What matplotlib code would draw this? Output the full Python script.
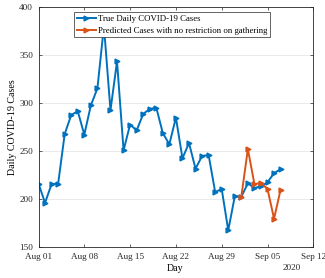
import numpy as np
import matplotlib
matplotlib.use("Agg")
import matplotlib.pyplot as plt
import matplotlib.dates as mdates

plt.rcParams["font.family"] = ["Liberation Serif", "DejaVu Serif"]

true_dates = np.arange(np.datetime64("2020-08-01"), np.datetime64("2020-09-08"))
true_cases = [216, 196, 215.6, 216, 267.6, 287.6, 291.4, 267, 297.6, 315.2,
              380, 292.4, 343.4, 250.7, 277.6, 271.4, 288.6, 293.8, 295.2, 268.6,
              257, 284.8, 242.4, 258.3, 231.6, 244.8, 245.8, 207.3, 210.4, 167.4,
              202.8, 202.4, 216.3, 211.5, 213.2, 217.4, 227, 231]

pred_dates = np.arange(np.datetime64("2020-09-01"), np.datetime64("2020-09-08"))
pred_cases = [202.6, 252, 215.6, 216.7, 210.4, 179.5, 209.7]

blue = "#0072BD"
orange = "#D95319"

fig = plt.figure(figsize=(3.25, 2.78), dpi=100)
ax = fig.add_axes([0.1185, 0.1115, 0.8455, 0.8633])

ax.plot(true_dates, true_cases, color=blue, lw=1.4, marker=">", ms=3.5,
        label="True Daily COVID-19 Cases")
ax.plot(pred_dates, pred_cases, color=orange, lw=1.4, marker=">", ms=3.5,
        label="Predicted Cases with no restriction on gathering")

ax.set_xlim(np.datetime64("2020-08-01"), np.datetime64("2020-09-12"))
ax.set_ylim(150, 400)
ax.set_yticks([150, 200, 250, 300, 350, 400])
ticks = np.arange(np.datetime64("2020-08-01"), np.datetime64("2020-09-13"), 7)
ax.set_xticks(ticks)
ax.xaxis.set_major_formatter(mdates.DateFormatter("%b %d"))

ax.yaxis.grid(True, color="#e6e6e6", lw=0.6)
ax.set_axisbelow(True)
ax.tick_params(direction="in", top=True, right=True, labelsize=6.6, length=2.5,
               width=0.5, colors="#262626", pad=4)
for s in ax.spines.values():
    s.set_linewidth(0.6)
    s.set_color("#262626")

ax.set_xlabel("Day", fontsize=7.2, va="center")
ax.xaxis.set_label_coords(0.497, -0.088)
ax.set_ylabel("Daily COVID-19 Cases", fontsize=7.2, va="center")
ax.yaxis.set_label_coords(-0.096, 0.5)
ax.text(0.92, -0.088, "2020", transform=ax.transAxes, ha="center", va="center",
        fontsize=6.6, color="#262626")

leg = ax.legend(loc="upper left", bbox_to_anchor=(0.129, 0.979), fontsize=6.3,
                fancybox=False, framealpha=1, edgecolor="#262626",
                borderpad=0.3, labelspacing=0.45, handlelength=2.2,
                handletextpad=0.2, borderaxespad=0)
leg.get_frame().set_linewidth(0.5)

fig.savefig("out.png", dpi=100)
